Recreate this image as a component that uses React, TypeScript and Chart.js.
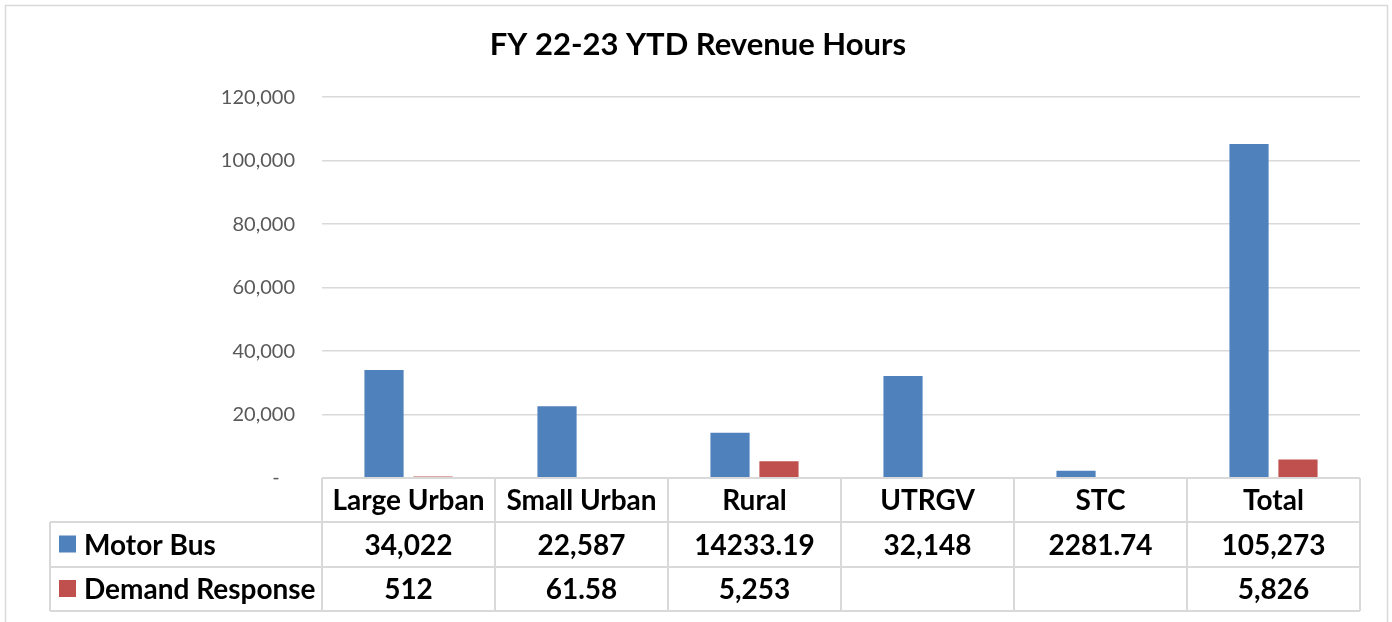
import React, { useEffect, useRef } from 'react';
import { Chart, registerables } from 'chart.js';

Chart.register(...registerables);

const chartTitle = 'FY 22-23 YTD Revenue Hours';
const categories = ['Large Urban', 'Small Urban', 'Rural', 'UTRGV', 'STC', 'Total'];
const seriesNames = ['Motor Bus', 'Demand Response'];
const seriesColors = ['#4F81BD', '#C0504D'];
const motorBus = [34022, 22587, 14233.19, 32148, 2281.74, 105273];
const demandResponse = [512, 61.58, 5253, null, null, 5826];
const motorBusText = ['34,022', '22,587', '14233.19', '32,148', '2281.74', '105,273'];
const demandResponseText = ['512', '61.58', '5,253', '', '', '5,826'];
const yMin = 0;
const yMax = 120000;
const yStep = 20000;

const FONT = 'Lato, "Open Sans", sans-serif';

const backgroundPlugin = {
  id: 'bgBorder',
  beforeDraw(chart: any) {
    const { ctx, width, height } = chart;
    ctx.save();
    ctx.fillStyle = '#ffffff';
    ctx.fillRect(0, 0, width, height);
    ctx.strokeStyle = '#d9d9d9';
    ctx.lineWidth = 1.5;
    ctx.strokeRect(5.5, 5.5, 1382, height + 20);
    ctx.restore();
  },
};

const tablePlugin = {
  id: 'dataTable',
  afterDraw(chart: any) {
    const { ctx, chartArea } = chart;
    const x = chart.scales.x;
    const top = chartArea.bottom;
    const rows = [top, top + 44, top + 89, top + 133];
    const labelLeft = 50;
    const right = chartArea.right;
    const half = (x.getPixelForValue(1) - x.getPixelForValue(0)) / 2;
    const line = (x1: number, y1: number, x2: number, y2: number) => {
      ctx.beginPath();
      ctx.moveTo(x1, y1);
      ctx.lineTo(x2, y2);
      ctx.stroke();
    };
    ctx.save();
    ctx.strokeStyle = '#d9d9d9';
    ctx.lineWidth = 2;
    line(chartArea.left, rows[0], right, rows[0]);
    for (let r = 1; r < rows.length; r++) line(labelLeft, rows[r], right, rows[r]);
    line(labelLeft, rows[1], labelLeft, rows[3]);
    for (let i = 0; i < categories.length; i++) {
      const xx = x.getPixelForValue(i) - half;
      line(xx, rows[0], xx, rows[3]);
    }
    line(right, rows[0], right, rows[3]);

    ctx.fillStyle = '#000000';
    ctx.font = `bold 28px ${FONT}`;
    ctx.textBaseline = 'middle';
    ctx.textAlign = 'center';
    const texts = [categories, motorBusText, demandResponseText];
    for (let r = 0; r < 3; r++) {
      const cy = (rows[r] + rows[r + 1]) / 2 + 1;
      texts[r].forEach((t, i) => {
        ctx.fillText(t, x.getPixelForValue(i), cy);
      });
    }
    for (let s = 0; s < seriesNames.length; s++) {
      const cy = (rows[s + 1] + rows[s + 2]) / 2;
      ctx.fillStyle = seriesColors[s];
      ctx.fillRect(labelLeft + 9, cy - 9, 17, 17);
      ctx.fillStyle = '#000000';
      ctx.textAlign = 'left';
      ctx.fillText(seriesNames[s], labelLeft + 34, cy + 1);
    }
    ctx.restore();
  },
};

export default function App() {
  const ref = useRef<HTMLCanvasElement | null>(null);
  useEffect(() => {
    document.body.style.margin = '0';
    const canvas = ref.current!;
    const chart = new Chart(canvas, {
      type: 'bar',
      data: {
        labels: categories,
        datasets: [
          { label: seriesNames[0], data: motorBus, backgroundColor: seriesColors[0], categoryPercentage: 0.566, barPercentage: 0.8 },
          { label: seriesNames[1], data: demandResponse as any, backgroundColor: seriesColors[1], categoryPercentage: 0.566, barPercentage: 0.8 },
        ],
      },
      options: {
        responsive: false,
        animation: false,
        devicePixelRatio: 1,
        layout: { padding: { top: 5, right: 32, left: 36, bottom: 0 } },
        plugins: {
          legend: { display: false },
          tooltip: { enabled: false },
          title: {
            display: true,
            text: chartTitle,
            color: '#000000',
            font: { family: FONT, size: 31, weight: 'bold', lineHeight: 1.2 },
            padding: { top: 21, bottom: 34 },
          },
        },
        scales: {
          x: {
            ticks: { display: false },
            grid: { display: false },
            border: { display: false },
            afterFit: (s: any) => { s.height = 144; },
          },
          y: {
            min: yMin,
            max: yMax,
            ticks: {
              stepSize: yStep,
              padding: 27,
              color: '#595959',
              font: { family: FONT, size: 20 },
              callback: (v: any) => (Number(v) === 0 ? '-   ' : Number(v).toLocaleString('en-US')),
            },
            grid: { color: '#d9d9d9', lineWidth: 1.5, drawTicks: false },
            border: { display: false },
            afterFit: (s: any) => { s.width = 286; },
          },
        },
      },
      plugins: [backgroundPlugin, tablePlugin],
    });
    return () => chart.destroy();
  }, []);
  return (
    <div style={{ position: 'absolute', left: 0, top: 0, width: 1392, height: 622 }}>
      <canvas ref={ref} width={1392} height={622} />
    </div>
  );
}
